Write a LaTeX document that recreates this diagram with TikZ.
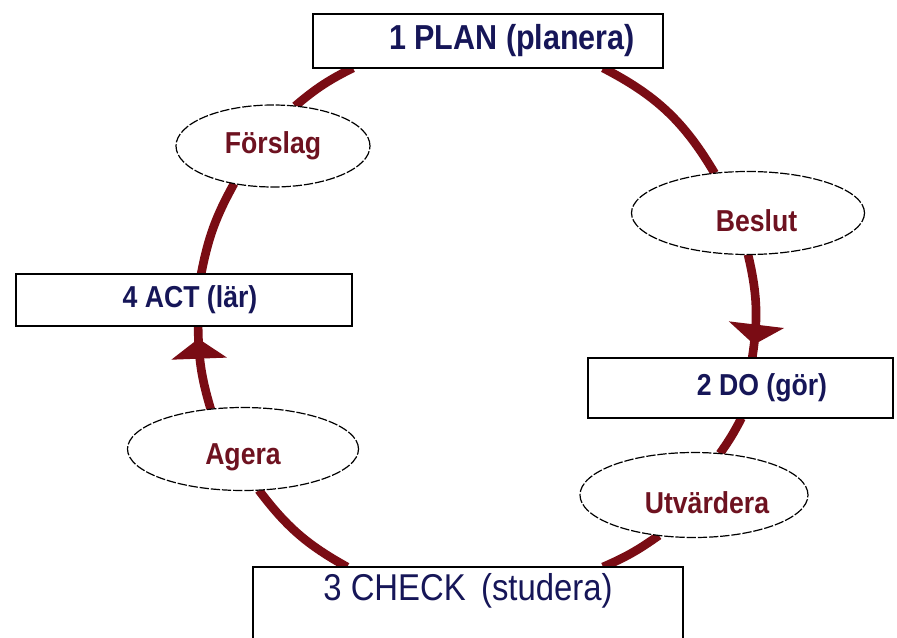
\documentclass[tikz,border=0pt]{standalone}
\usepackage{fontspec}
\usepackage{xcolor}
\usetikzlibrary{shapes,arrows.meta,calc,backgrounds,decorations.markings}

\newfontfamily\pdcafont[FakeStretch=0.88]{Liberation Sans}
\definecolor{ringred}{RGB}{122,12,20}
\definecolor{labelred}{RGB}{110,18,32}
\definecolor{labelblue}{RGB}{22,22,88}

\tikzset{
    box/.style={rectangle, draw=black, line width=1.5pt, fill=white, inner sep=0pt, outer sep=0pt,
        text=labelblue, font=\pdcafont\bfseries\fontsize{22.7}{26}\selectfont},
    bubble/.style={ellipse, draw=black, line width=0.9pt, dash pattern=on 7pt off 1.4pt, fill=white,
        inner sep=0pt, outer sep=0pt, text=labelred, font=\pdcafont\bfseries\fontsize{22.7}{26}\selectfont},
    ring/.style={draw=ringred, line width=6.5pt},
    ringarrow/.style={postaction={decorate}, decoration={markings,
        mark=at position #1 with {\arrow{Triangle[width=41pt,length=15pt]}}}}
}

\begin{document}
\begin{tikzpicture}[x=0.75pt, y=0.75pt]
    \useasboundingbox (0,0) rectangle (897,637);
    \clip (0,0) rectangle (897,637);

    % the four steps
    \node[box, minimum width=262.5pt, minimum height=40.5pt, font=\pdcafont\bfseries\fontsize{26}{30}\selectfont]
        (plan) at (488,596) {\hspace*{36pt}1 PLAN (planera)};
    \node[box, minimum width=228.75pt, minimum height=45pt] (do) at (740,249) {\hspace*{33pt}2 DO (gör)};
    \node[box, minimum width=322.5pt, minimum height=58.5pt, text depth=29pt,
        font=\pdcafont\fontsize{28}{32}\selectfont] (check) at (468,31) {3 CHECK\ \,(studera)};
    \node[box, minimum width=252pt, minimum height=39pt] (act) at (184,337) {\hspace*{9pt}4 ACT (lär)};

    % what happens in between
    \node[bubble, minimum width=145.5pt, minimum height=61.5pt] (forslag) at (273,491) {Förslag};
    \node[bubble, minimum width=174.75pt, minimum height=62.25pt, text height=28pt]
        (beslut) at (748,424) {\hspace*{12.75pt}Beslut};
    \node[bubble, minimum width=171pt, minimum height=63.75pt, text height=28pt]
        (utvardera) at (694,142) {\hspace*{19.5pt}Utvärdera};
    \node[bubble, minimum width=173.25pt, minimum height=62.25pt, text height=28pt]
        (agera) at (243,188) {Agera};

    % the ring
    \begin{scope}[on background layer]
        \fill[white] (0,0) rectangle (897,637);
        \draw[ring] ($(plan.south west)!.829!(plan.south east)$) to[bend left=16] (beslut.130);
        \draw[ring, ringarrow=0.87] (beslut.south) to[bend left=11] ($(do.north west)!.54!(do.north east)$);
        \draw[ring] ($(do.south west)!.505!(do.south east)$) to[bend left=4] (utvardera.58);
        \draw[ring] (utvardera.229) to[bend left=6] ($(check.north west)!.814!(check.north east)$);
        \draw[ring] ($(check.north west)!.219!(check.north east)$) to[bend left=12] (agera.291);
        \draw[ring, ringarrow=0.85] (agera.129) to[bend left=8] ($(act.south west)!.542!(act.south east)$);
        \draw[ring] ($(act.north west)!.551!(act.north east)$) to[bend left=9] (forslag.224);
        \draw[ring] (forslag.61) to[bend left=7] ($(plan.south west)!.114!(plan.south east)$);
    \end{scope}
\end{tikzpicture}
\end{document}
